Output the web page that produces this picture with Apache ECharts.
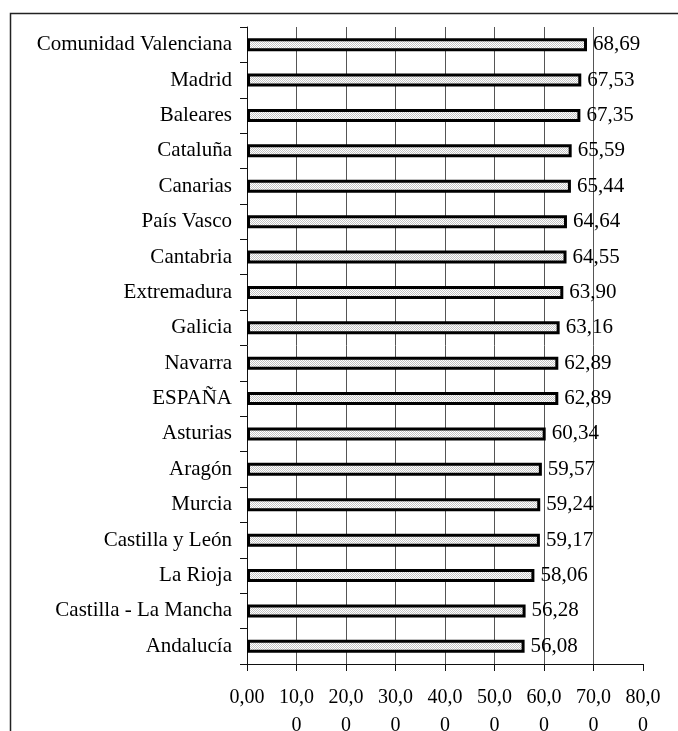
<!DOCTYPE html>
<html>
<head>
<meta charset="utf-8">
<script src="https://cdn.jsdelivr.net/npm/echarts@6/dist/echarts.min.js"></script>
<style>
  html, body { margin: 0; padding: 0; background: #fff; }
  #chart { width: 678px; height: 731px; }
</style>
</head>
<body>
<div id="chart"></div>
<script>
// regions, top to bottom
var regions = ['Comunidad Valenciana', 'Madrid', 'Baleares', 'Cataluña', 'Canarias',
	'País Vasco', 'Cantabria', 'Extremadura', 'Galicia', 'Navarra', 'ESPAÑA',
	'Asturias', 'Aragón', 'Murcia', 'Castilla y León', 'La Rioja',
	'Castilla - La Mancha', 'Andalucía'];
var values = [68.69, 67.53, 67.35, 65.59, 65.44, 64.64, 64.55, 63.90, 63.16, 62.89,
	62.89, 60.34, 59.57, 59.24, 59.17, 58.06, 56.28, 56.08];
var xTickLabels = ['0,00', '10,0\n0', '20,0\n0', '30,0\n0', '40,0\n0', '50,0\n0',
	'60,0\n0', '70,0\n0', '80,0\n0'];

var FONT = 'Liberation Serif';

// fine checker fill for the bars
function makePattern() {
	var c = document.createElement('canvas');
	c.width = 2; c.height = 2;
	var ctx = c.getContext('2d');
	ctx.fillStyle = '#ffffff';
	ctx.fillRect(0, 0, 2, 2);
	ctx.fillStyle = '#c4c4c4';
	ctx.fillRect(0, 0, 1, 1);
	ctx.fillRect(1, 1, 1, 1);
	return c;
}

var myChart = echarts.init(document.getElementById('chart'), null, { renderer: 'canvas' });

var option = {
	animation: false,
	backgroundColor: '#fff',
	grid: { left: 247, right: 35, top: 27, bottom: 67, containLabel: false, outerBoundsMode: 'none' },
	graphic: [{
		type: 'rect',
		shape: { x: 10.5, y: 13.5, width: 720, height: 760 },
		style: { fill: null, stroke: '#222', lineWidth: 1.5 },
		silent: true
	}],
	xAxis: {
		type: 'value',
		min: 0, max: 80, interval: 10,
		axisLine: { show: true, lineStyle: { color: '#111', width: 1 } },
		axisTick: { show: true, length: 7, lineStyle: { color: '#111' } },
		splitLine: { show: true, showMinLine: false, showMaxLine: false, lineStyle: { color: '#555', width: 1 } },
		axisLabel: {
			color: '#000', fontFamily: FONT, fontSize: 20, lineHeight: 28, margin: 20,
			formatter: function (v) { return xTickLabels[Math.round(v / 10)]; }
		}
	},
	yAxis: {
		type: 'category',
		inverse: true,
		data: regions,
		axisLine: { show: true, lineStyle: { color: '#111', width: 1 } },
		axisTick: { show: true, length: 7, alignWithLabel: false, lineStyle: { color: '#111' } },
		axisLabel: { color: '#000', fontFamily: FONT, fontSize: 21, margin: 15 }
	},
	series: [{
		type: 'bar',
		data: values,
		barWidth: 13,
		itemStyle: {
			color: { image: makePattern(), repeat: 'repeat' },
			borderColor: '#000',
			borderWidth: 3
		},
		label: {
			show: true, position: 'right', distance: 6,
			color: '#000', fontFamily: FONT, fontSize: 21,
			formatter: function (p) { return p.value.toFixed(2).replace('.', ','); }
		}
	}]
};
myChart.setOption(option);
window.addEventListener('resize', myChart.resize);
</script>
</body>
</html>
